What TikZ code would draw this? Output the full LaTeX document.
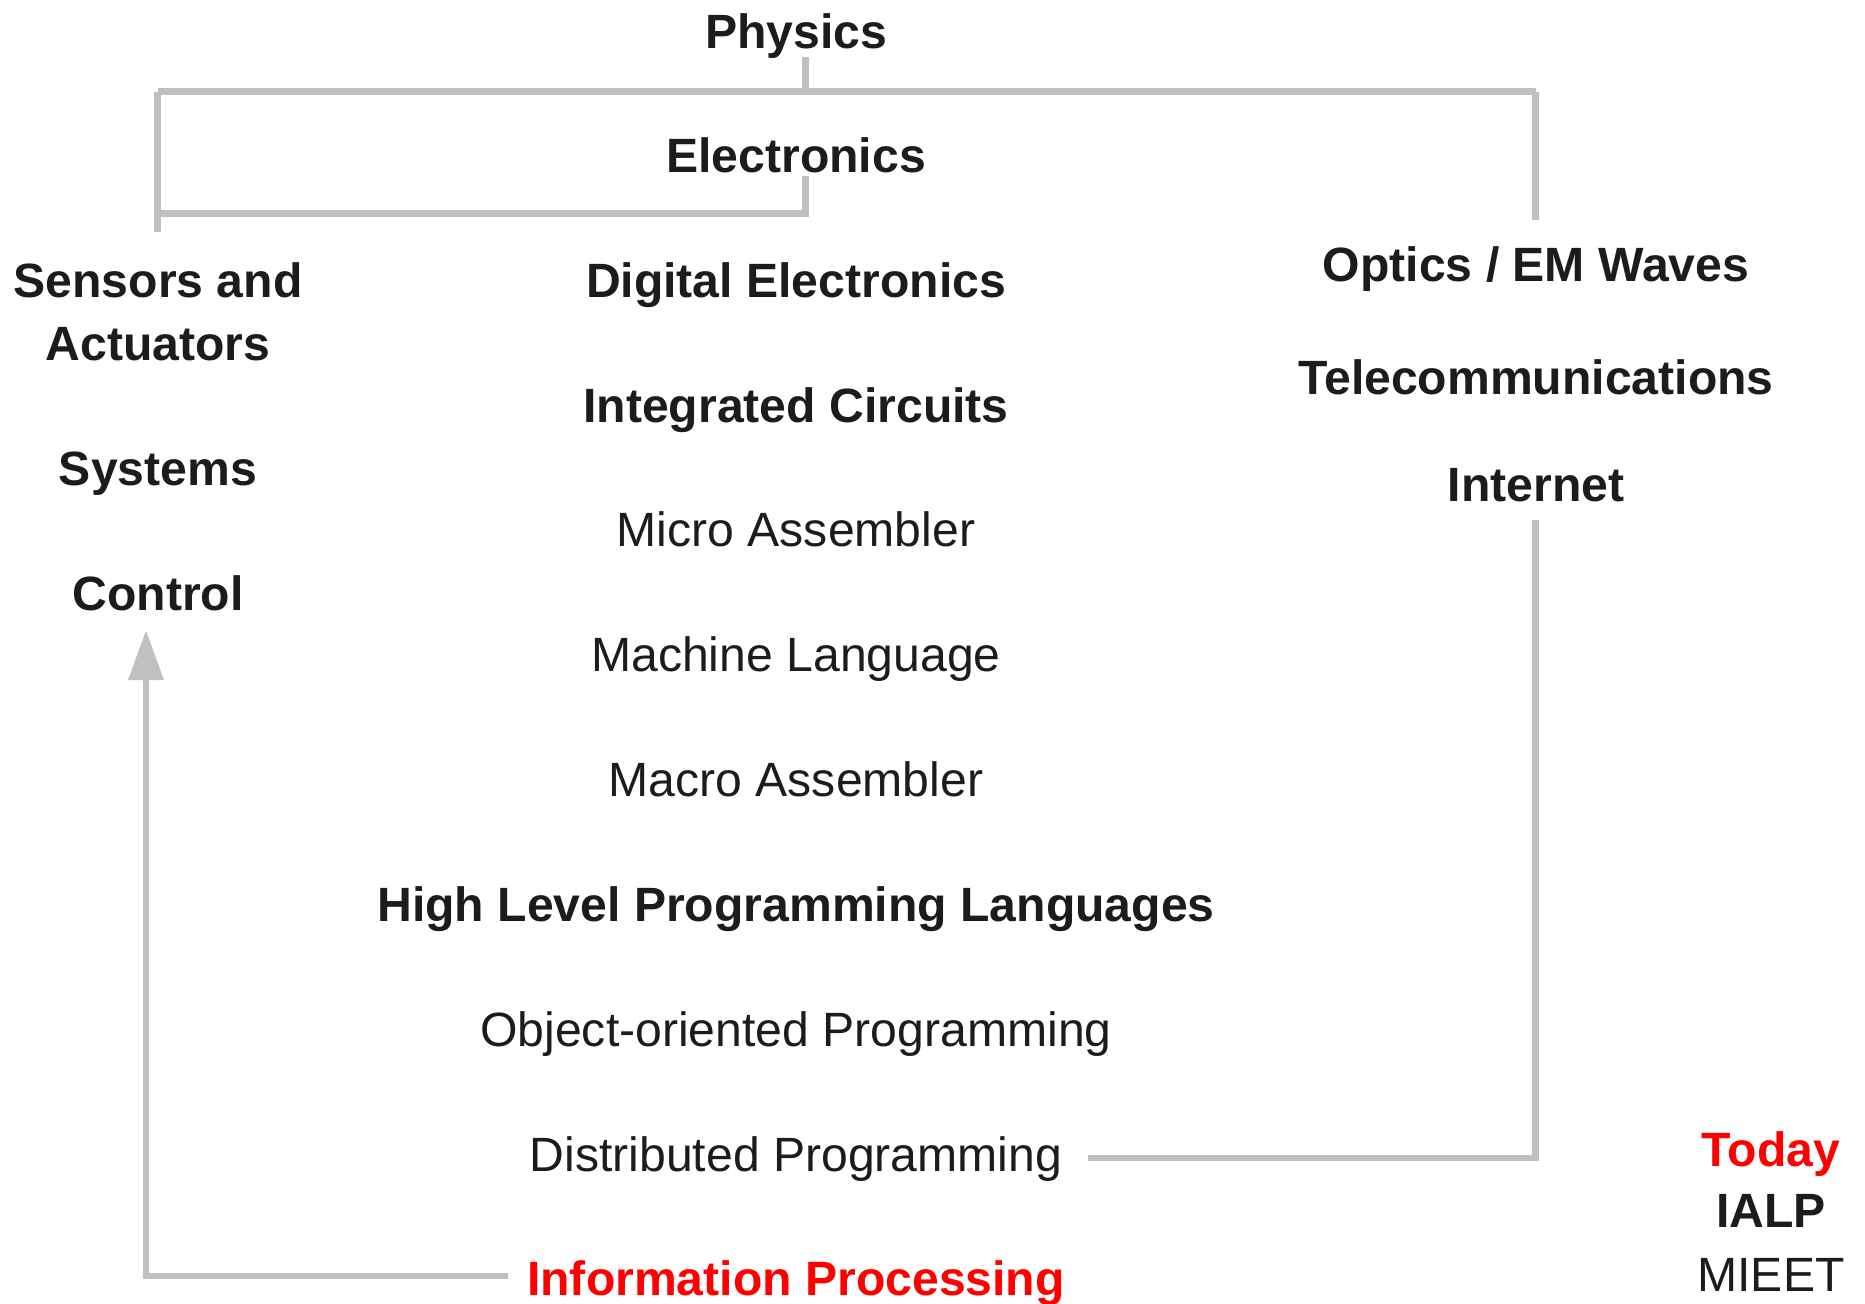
\documentclass[tikz,border=0pt]{standalone}
\usepackage{fontspec}
\setmainfont{Liberation Sans}
\usetikzlibrary{positioning, arrows.meta}
\definecolor{TextColor}{RGB}{28,28,28}
\definecolor{LinkColor}{RGB}{192,192,192}
\definecolor{TodayColor}{RGB}{255,0,0}

\begin{document}
\begin{tikzpicture}[
    x=0.02cm, y=-0.02cm,
    every node/.style={font=\fontsize{27.4}{35.3}\selectfont, text=TextColor, inner sep=0pt, anchor=base, align=center},
    topic/.style={font=\fontsize{27.4}{35.3}\selectfont\bfseries},
    lang/.style={},
    hot/.style={font=\fontsize{27.4}{35.3}\selectfont\bfseries, text=TodayColor},
    link/.style={draw=LinkColor, line width=3.9pt},
]
\useasboundingbox (0,0) rectangle (1865,1303);

% Top of the tree
\node[topic] (phys) at (796,48) {Physics};
\node[topic] (elec) at (796,172) {Electronics};

% Left column
\node[topic] (sens) at (158,360) {Sensors and\\Actuators};
\node[topic] (sys) at (158,485) {Systems};
\node[topic] (ctrl) at (158,610) {Control};

% Middle column
\node[topic] (dig) at (796,297) {Digital Electronics};
\node[topic] (ic) at (796,422) {Integrated Circuits};
\node[lang] (micro) at (796,546) {Micro Assembler};
\node[lang] (mach) at (796,671) {Machine Language};
\node[lang] (macro) at (796,796) {Macro Assembler};
\node[topic] (hll) at (796,921) {High Level Programming Languages};
\node[lang] (oop) at (796,1046) {Object-oriented Programming};
\node[lang] (dist) at (796,1171) {Distributed Programming};
\node[hot] (info) at (796,1295) {Information Processing};

% Right column
\node[topic] (opt) at (1536,281) {Optics / EM Waves};
\node[topic] (tel) at (1536,394) {Telecommunications};
\node[topic] (inet) at (1536,501) {Internet};

% Legend
\node[hot] (today) at (1771,1166) {Today};
\node[topic] (ialp) at (1771,1227) {IALP};
\node[lang] (mieet) at (1771,1291) {MIEET};

% Tree connectors
\coordinate (physTap) at (805.5,57);
\coordinate (barL) at (157.5,91.5);
\coordinate (barR) at (1535.5,91.5);
\coordinate (elecTap) at (805.5,176);
\coordinate (sensTop) at (157.5,232);
\coordinate (optTop) at (1535.5,220);
\draw[link] (physTap) -- (physTap |- barL);
\draw[link] (barL) -- (barR);
\draw[link] (barL) -- (sensTop);
\draw[link] (barR) -- (optTop);
\draw[link] (elecTap) -- ++(0,37.5) -- (sensTop |- 0,213.5);

% Internet down to distributed programming
\coordinate (inetBot) at (1535.5,520);
\coordinate (distEnd) at (1088,1158);
\draw[link] (inetBot) -- (inetBot |- distEnd) -- (distEnd);

% Information processing back to control
\coordinate (infoEnd) at (508,1276);
\coordinate (ctrlTip) at (146,630);
\draw[link, -{Triangle[length=1cm, width=0.68cm]}] (infoEnd) -- (ctrlTip |- infoEnd) -- (ctrlTip);

\end{tikzpicture}
\end{document}
